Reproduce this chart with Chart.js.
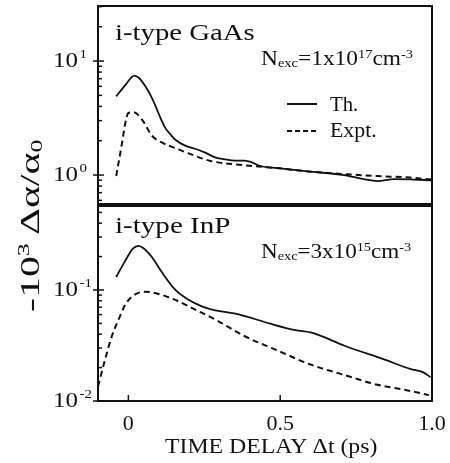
<!DOCTYPE html>
<html>
<head>
<meta charset="utf-8">
<script src="https://cdn.jsdelivr.net/npm/chart.js@4.4.1/dist/chart.umd.min.js"></script>
<style>
  body { margin: 0; background: #fff; }
  #wrap { position: relative; width: 450px; height: 463px; overflow: hidden; font-family: "Liberation Serif", "LiberationSerif", "Times New Roman", Times, "Nimbus Roman", serif; color: #111; }
  canvas { position: absolute; left: 0; }
  .lbl { position: absolute; left: 0; top: 0; white-space: nowrap; line-height: 1; transform-origin: 0 0; }
  .lbl sup { font-size: 0.62em; vertical-align: baseline; position: relative; top: -0.6em; }
  .lbl sub { font-size: 0.62em; vertical-align: baseline; position: relative; top: 0.2em; }
  .key { position: absolute; height: 2px; }
</style>
</head>
<body>
<div id="wrap">
  <canvas id="top" width="450" height="210" style="top:0"></canvas>
  <canvas id="bottom" width="450" height="263" style="top:200px"></canvas>
  <div class="key" style="left:287px; top:103px; width:30px; background:#111"></div>
  <div class="key" style="left:287px; top:130px; width:30px; background:repeating-linear-gradient(90deg,#111 0 5px,transparent 5px 8px)"></div>
</div>
<script>
// GaAs panel
const gaasTime = [-0.04, -0.01, 0.02, 0.035, 0.056, 0.075, 0.09, 0.105, 0.122, 0.14, 0.155, 0.187, 0.22, 0.253, 0.286, 0.32, 0.35, 0.38, 0.40, 0.435, 0.49, 0.60, 0.71, 0.775, 0.82, 0.875, 0.93, 0.99, 1.0];
const gaasTheory = [4.9, 6.15, 7.45, 7.1, 6.0, 4.9, 4.0, 3.2, 2.58, 2.25, 2.04, 1.81, 1.70, 1.57, 1.43, 1.37, 1.34, 1.34, 1.31, 1.20, 1.15, 1.07, 1.0, 0.92, 0.885, 0.92, 0.917, 0.90, 0.90];
const gaasExptTime = [-0.04, -0.021, -0.01, 0.0, 0.018, 0.045, 0.078, 0.11, 0.155, 0.198, 0.27, 0.38, 0.49, 0.60, 0.71, 0.82, 0.93, 0.99, 1.0];
const gaasExpt = [0.98, 1.9, 2.86, 3.5, 3.55, 3.06, 2.21, 1.93, 1.72, 1.55, 1.33, 1.22, 1.15, 1.07, 1.02, 0.98, 0.95, 0.92, 0.92];

// InP panel
const inpTime = [-0.04, -0.01, 0.015, 0.033, 0.05, 0.078, 0.11, 0.155, 0.198, 0.242, 0.286, 0.357, 0.467, 0.55, 0.6, 0.63, 0.71, 0.84, 0.93, 0.97, 0.995];
const inpTheory = [0.131, 0.184, 0.236, 0.25, 0.238, 0.197, 0.145, 0.10, 0.0816, 0.0713, 0.0656, 0.061, 0.0497, 0.0435, 0.0415, 0.039, 0.0316, 0.0238, 0.0194, 0.0182, 0.0164];
const inpExptTime = [-0.1, -0.076, -0.054, -0.032, -0.01, 0.012, 0.056, 0.1, 0.166, 0.22, 0.286, 0.38, 0.49, 0.6, 0.71, 0.82, 0.905, 0.99];
const inpExpt = [0.0135, 0.024, 0.0387, 0.0543, 0.0738, 0.0873, 0.0966, 0.092, 0.0788, 0.0666, 0.0543, 0.0387, 0.0286, 0.0213, 0.0172, 0.014, 0.0127, 0.0113];

const xTicks = [0, 0.5, 1.0];
const xTickLabels = ['0', '0.5', '1.0'];

const serif = '"Liberation Serif", "LiberationSerif", "Times New Roman", Times, "Nimbus Roman", serif';
const ink = '#111';

function points(xs, ys) {
    return xs.map((x, i) => ({ x: x, y: ys[i] }));
}

// frame, inward ticks and 10^n labels
const axisMarks = {
    id: 'axisMarks',
    afterDraw(chart) {
        const { ctx, chartArea: a, scales } = chart;
        const x = scales.x, y = scales.y;
        ctx.save();
        ctx.strokeStyle = ink;
        ctx.fillStyle = ink;
        ctx.lineWidth = 2;
        ctx.strokeRect(a.left, a.top, a.right - a.left, a.bottom - a.top);

        ctx.lineWidth = 1.5;
        for (let e = -3; e <= 2; e++) {
            for (let d = 1; d <= 9; d++) {
                const v = d * Math.pow(10, e);
                if (v < y.min * 0.999 || v > y.max * 1.001) continue;
                const py = y.getPixelForValue(v);
                ctx.beginPath();
                if (d === 1) {
                    ctx.moveTo(a.left - 5, py);
                    ctx.lineTo(a.left + 6, py);
                } else {
                    ctx.moveTo(a.left, py);
                    ctx.lineTo(a.left + 4, py);
                }
                ctx.stroke();
                if (d === 1) {
                    ctx.textBaseline = 'middle';
                    ctx.textAlign = 'left';
                    ctx.save();
                    ctx.font = '20px ' + serif;
                    ctx.translate(53, py + 1);
                    ctx.scale(1.25, 1);
                    ctx.fillText('10', 0, 0);
                    ctx.restore();
                    ctx.save();
                    ctx.font = '13px ' + serif;
                    ctx.translate(79.5, py - 6);
                    ctx.scale(1.15, 1);
                    ctx.fillText(String(e), 0, 0);
                    ctx.restore();
                }
            }
        }

        if (x.options.display) {
            xTicks.forEach(v => {
                const px = x.getPixelForValue(v);
                ctx.beginPath();
                ctx.moveTo(px, a.bottom);
                ctx.lineTo(px, a.bottom - 6);
                ctx.stroke();
            });
        }
        ctx.restore();
    }
};

function makeChart(id, sets, yMin, yMax, showX) {
    return new Chart(document.getElementById(id), {
        type: 'line',
        data: { datasets: sets },
        options: {
            responsive: false,
            animation: false,
            layout: { padding: { top: 6, right: 18, bottom: showX ? 0 : 6, left: 0 } },
            plugins: { legend: { display: false }, tooltip: { enabled: false } },
            elements: {
                point: { radius: 0 },
                line: { borderWidth: 1.8, cubicInterpolationMode: 'monotone' }
            },
            scales: {
                x: {
                    type: 'linear',
                    min: -0.1,
                    max: 1.0,
                    display: showX,
                    grid: { display: false },
                    border: { display: false },
                    afterBuildTicks: s => { s.ticks = xTicks.map(v => ({ value: v })); },
                    ticks: {
                        padding: 2,
                        maxRotation: 0,
                        autoSkip: false,
                        color: ink,
                        font: { family: serif, size: 22 },
                        callback: v => xTickLabels[xTicks.indexOf(v)]
                    },
                    afterFit: s => { s.height = showX ? 62 : 0; }
                },
                y: {
                    type: 'logarithmic',
                    min: yMin,
                    max: yMax,
                    grid: { display: false },
                    border: { display: false },
                    ticks: { display: false },
                    afterFit: s => { s.width = 98; }
                }
            }
        },
        plugins: [axisMarks]
    });
}

function series(xs, ys, dashed) {
    return {
        data: points(xs, ys),
        borderColor: ink,
        borderWidth: dashed ? 2 : 1.8,
        borderDash: dashed ? [6, 4] : [],
        fill: false
    };
}

makeChart('top', [
    series(gaasTime, gaasTheory, false),
    series(gaasExptTime, gaasExpt, true)
], 0.557, 30.4, false);

makeChart('bottom', [
    series(inpTime, inpTheory, false),
    series(inpExptTime, inpExpt, true)
], 0.01, 0.571, true);

// text labels
const wrap = document.getElementById('wrap');
const notes = [
    { html: 'i-type GaAs', x: 115, base: 40, w: 140, fs: 23 },
    { html: 'N<sub>exc</sub>=1x10<sup>17</sup>cm<sup>-3</sup>', x: 261, base: 65, w: 152, fs: 20 },
    { html: 'Th.', x: 330, base: 111, w: 28, fs: 20 },
    { html: 'Expt.', x: 330, base: 137, w: 47, fs: 20 },
    { html: 'i-type InP', x: 115, base: 233, w: 115, fs: 23 },
    { html: 'N<sub>exc</sub>=3x10<sup>15</sup>cm<sup>-3</sup>', x: 261, base: 258, w: 150, fs: 20 },
    { html: 'TIME DELAY Δt (ps)', x: 165, base: 454, w: 213, fs: 21 }
];
notes.forEach(n => {
    const el = document.createElement('div');
    el.className = 'lbl';
    el.style.fontSize = n.fs + 'px';
    el.innerHTML = n.html;
    wrap.appendChild(el);
    const s = n.w / el.offsetWidth;
    const top = n.base - 0.8375 * n.fs;
    el.style.transform = `translate(${n.x}px, ${top}px) scaleX(${s})`;
});

// rotated y title
const yt = document.createElement('div');
yt.className = 'lbl';
yt.style.fontSize = '28px';
yt.innerHTML = '-10<sup>3</sup> Δα/α<sub>0</sub>';
wrap.appendChild(yt);
const tw = yt.offsetWidth, th = yt.offsetHeight;
const ts = 172 / tw;
yt.style.transform = `translate(30px, 226px) rotate(-90deg) scaleX(${ts}) translate(${-tw / 2}px, ${-th / 2}px)`;
</script>
</body>
</html>
